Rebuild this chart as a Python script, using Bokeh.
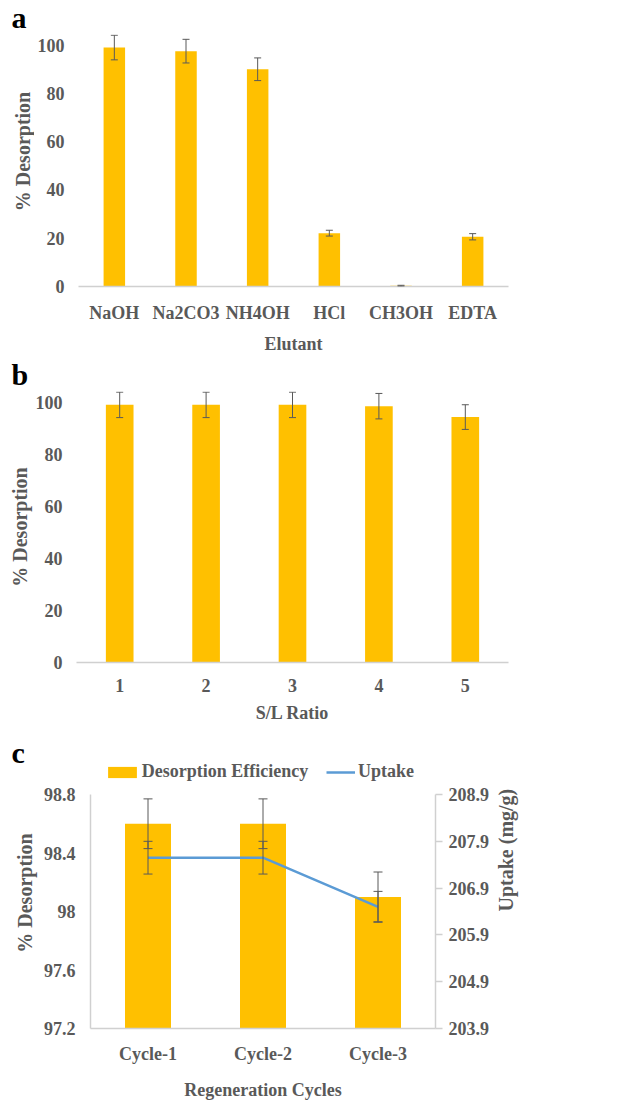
from bokeh.plotting import figure
from bokeh.models import (ColumnDataSource, FactorRange, Range1d, LinearAxis, FixedTicker,
                          Whisker, TeeHead, Label, Legend, LegendItem, CustomJSTickFormatter)
from bokeh.layouts import column, row
from bokeh.embed import file_html
from bokeh.resources import INLINE
import math

# ---------------- data ----------------
elutants = ["NaOH", "Na2CO3", "NH4OH", "HCl", "CH3OH", "EDTA"]
elutant_desorption = [99.0, 97.5, 90.0, 22.1, 0.3, 20.6]
elutant_error = [5.1, 4.9, 4.7, 1.2, 0.2, 1.3]

sl_ratios = ["1", "2", "3", "4", "5"]
sl_desorption = [99.2, 99.2, 99.2, 98.7, 94.5]
sl_error = [4.9, 4.9, 4.9, 4.9, 4.75]

cycles = ["Cycle-1", "Cycle-2", "Cycle-3"]
cycle_desorption = [98.6, 98.6, 98.1]
cycle_desorption_error = [0.17, 0.17, 0.17]
cycle_uptake = [207.55, 207.55, 206.5]
cycle_uptake_error = [0.35, 0.35, 0.33]

ticks_ab = [0, 20, 40, 60, 80, 100]
ticks_c_left = [97.2, 97.6, 98.0, 98.4, 98.8]
ticks_c_right = [203.9, 204.9, 205.9, 206.9, 207.9, 208.9]

# ---------------- style ----------------
FONT = "Liberation Serif"
TXT = "#595959"
BAR = "#FFC000"
LINE = "#5B9BD5"
AXIS = "#D0D0D0"
ERR = "#595959"
W = 628
LETTER_SHIFT = 10   # compensation for the letter baseline placement


def no_align(p):
    if "frame_align" in p.properties():
        p.frame_align = False


def base_style(p):
    no_align(p)
    p.outline_line_color = None
    p.xgrid.grid_line_color = None
    p.ygrid.grid_line_color = None
    for ax in p.axis:
        ax.major_label_text_font = FONT
        ax.major_label_text_font_style = "bold"
        ax.major_label_text_font_size = "18px"
        ax.major_label_text_color = TXT
        ax.axis_label_text_font = FONT
        ax.axis_label_text_font_style = "bold"
        ax.axis_label_text_color = TXT
        ax.minor_tick_line_color = None
        ax.major_tick_in = 0
        ax.major_tick_out = 0
    p.xaxis.axis_line_color = AXIS
    p.xaxis.axis_line_width = 1.5
    p.xaxis.major_tick_line_color = None
    p.xaxis.major_label_standoff = 16
    p.xaxis.axis_label_text_font_size = "18px"
    p.xaxis.axis_label_standoff = 8


def blank(width, height, x_range=None):
    s = figure(width=width, height=height, title=None,
               x_range=x_range if x_range is not None else Range1d(0, 1),
               y_range=Range1d(0, 1),
               x_axis_location=None, y_axis_location=None, min_border=0,
               toolbar_location=None, output_backend="svg")
    no_align(s)
    s.outline_line_color = None
    s.grid.grid_line_color = None
    return s


def strip(height, letter, baseline_from_bottom, x_range=None):
    s = blank(W, height, x_range)
    s.add_layout(Label(x=11, y=baseline_from_bottom + LETTER_SHIFT,
                       x_units="screen", y_units="screen",
                       text=letter, text_font=FONT, text_font_style="bold",
                       text_font_size="30px", text_color="black",
                       text_baseline="alphabetic", text_align="left"))
    return s


def title_strip(width, height, text, cx, cy_from_bottom):
    s = blank(width, height)
    s.add_layout(Label(x=cx, y=cy_from_bottom, x_units="screen", y_units="screen",
                       text=text, angle=90, angle_units="deg", text_font=FONT,
                       text_font_style="bold", text_font_size="20px", text_color=TXT,
                       text_align="center", text_baseline="middle"))
    return s


def whisker(src, upper, lower, size, **kw):
    head = dict(size=size, line_color=ERR, line_width=1)
    return Whisker(source=src, base="x", upper=upper, lower=lower, level="annotation",
                   line_color=ERR, line_width=1,
                   upper_head=TeeHead(**head), lower_head=TeeHead(**head), **kw)


def left_axis_ab(p, title, with_label):
    p.yaxis.ticker = FixedTicker(ticks=ticks_ab)
    p.yaxis.axis_line_color = None
    p.yaxis.major_label_standoff = 14
    if with_label:
        p.yaxis.axis_label = "% Desorption"
        p.yaxis.axis_label_text_font_size = "20px"
        p.yaxis.axis_label_standoff = 2
    p.xaxis.axis_label = title


# ---------------- panel a ----------------
la = strip(34, "a", 7.5)
TA = 34
ta = title_strip(TA, 322, "% Desorption", 22, 205)

src_a = ColumnDataSource(dict(
    x=elutants, y=elutant_desorption,
    upper=[v + e for v, e in zip(elutant_desorption, elutant_error)],
    lower=[v - e for v, e in zip(elutant_desorption, elutant_error)]))

pa = figure(x_range=FactorRange(factors=elutants), y_range=Range1d(0, 104.4), title=None,
            width=W - TA, height=322, min_border_top=0, min_border_bottom=67,
            min_border_left=76 - TA, min_border_right=W - 508,
            toolbar_location=None, output_backend="svg")
pa.vbar(x="x", top="y", width=0.3, source=src_a, fill_color=BAR, line_color=None)
pa.add_layout(whisker(src_a, "upper", "lower", 7))
base_style(pa)
left_axis_ab(pa, "Elutant", False)

# ---------------- panel b ----------------
lb = strip(35, "b", 7.5)

src_b = ColumnDataSource(dict(
    x=sl_ratios, y=sl_desorption,
    upper=[v + e for v, e in zip(sl_desorption, sl_error)],
    lower=[v - e for v, e in zip(sl_desorption, sl_error)]))

pb = figure(x_range=FactorRange(factors=sl_ratios), y_range=Range1d(0, 104.35), title=None,
            width=W, height=343, min_border_top=0, min_border_bottom=72,
            min_border_left=76, min_border_right=W - 508,
            toolbar_location=None, output_backend="svg")
pb.vbar(x="x", top="y", width=0.32, source=src_b, fill_color=BAR, line_color=None)
pb.add_layout(whisker(src_b, "upper", "lower", 7))
base_style(pb)
left_axis_ab(pb, "S/L Ratio", True)

# ---------------- panel c ----------------
src_c = ColumnDataSource(dict(
    x=cycles, y=cycle_desorption, u=cycle_uptake,
    upper=[v + e for v, e in zip(cycle_desorption, cycle_desorption_error)],
    lower=[v - e for v, e in zip(cycle_desorption, cycle_desorption_error)],
    u_upper=[v + e for v, e in zip(cycle_uptake, cycle_uptake_error)],
    u_lower=[v - e for v, e in zip(cycle_uptake, cycle_uptake_error)]))

lc = strip(51, "c", 23, x_range=FactorRange(factors=cycles))
# hidden copies of the series: they only lend their styles to the legend swatches
sw_bar = lc.vbar(x="x", top="y", width=0.4, source=src_c, fill_color=BAR,
                 line_color=None, visible=False)
sw_line = lc.line(x="x", y="u", source=src_c, line_color=LINE, line_width=2.5,
                  visible=False)
leg_style = dict(orientation="horizontal", border_line_color=None,
                 background_fill_alpha=0, padding=0, margin=0, spacing=0,
                 inactive_fill_alpha=0,
                 label_text_font=FONT, label_text_font_style="bold",
                 label_text_font_size="18px", label_text_color=TXT,
                 label_height=20)
lc.add_layout(Legend(items=[LegendItem(label="Desorption Efficiency", renderers=[sw_bar])],
                     location=(103.7, 3), glyph_width=36, glyph_height=14,
                     label_standoff=2, **leg_style))
lc.add_layout(Legend(items=[LegendItem(label="Uptake", renderers=[sw_line])],
                     location=(326, 3), glyph_width=29, glyph_height=14,
                     label_standoff=3, **leg_style))

TC = 40
tc = title_strip(TC, 317, "% Desorption", 24, 209.5)

pc = figure(x_range=FactorRange(factors=cycles), y_range=Range1d(97.2, 98.8), title=None,
            width=W - TC, height=317, min_border_top=9, min_border_bottom=74,
            min_border_left=90 - TC, min_border_right=W - 435,
            toolbar_location=None, output_backend="svg")
pc.extra_y_ranges = {"up": Range1d(203.9, 208.9)}
pc.vbar(x="x", top="y", bottom=97.2, width=0.4, source=src_c,
        fill_color=BAR, line_color=None)
pc.add_layout(whisker(src_c, "upper", "lower", 9))
pc.line(x="x", y="u", source=src_c, line_color=LINE, line_width=2.5, y_range_name="up")
pc.add_layout(whisker(src_c, "u_upper", "u_lower", 9, y_range_name="up"))
right = LinearAxis(y_range_name="up")
pc.add_layout(right, "right")
base_style(pc)
left = pc.yaxis[0]
left.ticker = FixedTicker(ticks=ticks_c_left)
left.formatter = CustomJSTickFormatter(code="return (Math.round(tick*10)/10).toString();")
left.axis_line_color = AXIS
left.axis_line_width = 1.5
left.major_tick_line_color = None
left.major_label_standoff = 15
right.ticker = FixedTicker(ticks=ticks_c_right)
right.formatter = CustomJSTickFormatter(code="return tick.toFixed(1);")
right.axis_line_color = AXIS
right.axis_line_width = 1.5
right.major_tick_line_color = AXIS
right.major_tick_line_width = 1.5
right.major_tick_out = 7
right.major_label_standoff = 6
right.axis_label = "Uptake (mg/g)"
right.axis_label_text_font_size = "20px"
right.axis_label_standoff = 14
if "axis_label_orientation" in right.properties():
    right.axis_label_orientation = math.pi / 2
    right.axis_label_text_align = "center"
pc.xaxis.major_label_standoff = 15
pc.xaxis.axis_label = "Regeneration Cycles"
pc.xaxis.axis_label_standoff = 13

layout = column(la, row(ta, pa, spacing=0), lb, pb, lc, row(tc, pc, spacing=0), spacing=0)
open("out.html", "w").write(file_html(layout, INLINE))
